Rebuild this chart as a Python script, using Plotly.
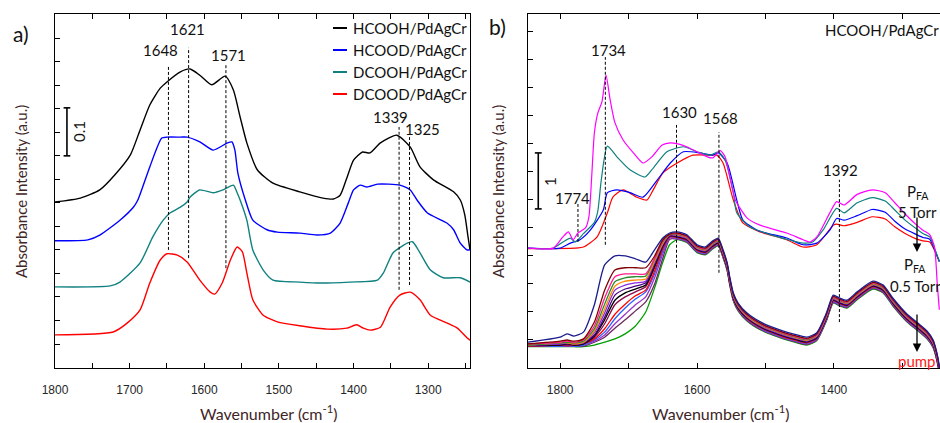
import plotly.graph_objects as go

W, H = 940, 423

# ---------------- panel a: isotopologues of formic acid on PdAgCr ----------------
a_names = ["HCOOH/PdAgCr", "HCOOD/PdAgCr", "DCOOH/PdAgCr", "DCOOD/PdAgCr"]
a_colors = ["#000000", "#0000ff", "#108080", "#ff0000"]

hcooh_wn = [1800, 1766, 1740, 1720, 1699, 1686, 1673, 1659, 1650, 1632, 1619, 1606, 1590, 1572,
            1561, 1552, 1543, 1529, 1508, 1472, 1441, 1427, 1418, 1409, 1400, 1388, 1378, 1364,
            1342, 1324, 1311, 1293, 1266, 1257, 1251, 1247, 1244]
hcooh_abs = [0.346, 0.354, 0.371, 0.402, 0.444, 0.496, 0.548, 0.583, 0.596, 0.617, 0.623, 0.610,
             0.590, 0.608, 0.579, 0.523, 0.469, 0.413, 0.385, 0.367, 0.354, 0.352, 0.360, 0.396,
             0.433, 0.450, 0.448, 0.469, 0.485, 0.460, 0.419, 0.392, 0.367, 0.350, 0.319, 0.277, 0.246]

hcood_wn = [1800, 1756, 1740, 1713, 1695, 1689, 1673, 1657, 1650, 1632, 1623, 1606, 1588, 1569,
            1563, 1559, 1555, 1545, 1535, 1516, 1502, 1472, 1449, 1431, 1418, 1407, 1400, 1391,
            1382, 1368, 1338, 1324, 1315, 1301, 1275, 1266, 1257, 1248, 1244]
hcood_abs = [0.265, 0.267, 0.277, 0.308, 0.335, 0.350, 0.419, 0.479, 0.481, 0.481, 0.481, 0.471,
             0.454, 0.469, 0.471, 0.454, 0.406, 0.350, 0.308, 0.288, 0.283, 0.281, 0.277, 0.281,
             0.302, 0.344, 0.371, 0.381, 0.377, 0.383, 0.381, 0.371, 0.350, 0.323, 0.302, 0.288,
             0.260, 0.246, 0.246]

dcooh_wn = [1800, 1726, 1713, 1686, 1669, 1655, 1646, 1632, 1623, 1619, 1606, 1588, 1575, 1561,
            1556, 1552, 1543, 1535, 1521, 1508, 1472, 1445, 1405, 1368, 1360, 1347, 1328, 1321,
            1311, 1297, 1280, 1257, 1244]
dcooh_abs = [0.169, 0.171, 0.179, 0.219, 0.273, 0.308, 0.323, 0.335, 0.346, 0.356, 0.371, 0.365,
             0.371, 0.381, 0.365, 0.350, 0.308, 0.246, 0.204, 0.183, 0.179, 0.177, 0.179, 0.183,
             0.198, 0.240, 0.260, 0.263, 0.240, 0.204, 0.188, 0.188, 0.179]

dcood_wn = [1800, 1722, 1703, 1686, 1673, 1659, 1650, 1636, 1623, 1606, 1592, 1586, 1576, 1565,
            1556, 1549, 1543, 1535, 1521, 1502, 1472, 1435, 1409, 1396, 1387, 1378, 1364, 1351,
            1338, 1324, 1311, 1297, 1275, 1261, 1248, 1244]
dcood_abs = [0.069, 0.075, 0.094, 0.121, 0.177, 0.225, 0.238, 0.235, 0.221, 0.183, 0.158, 0.154,
             0.177, 0.225, 0.252, 0.242, 0.198, 0.142, 0.110, 0.096, 0.088, 0.081, 0.083, 0.090,
             0.083, 0.079, 0.085, 0.127, 0.152, 0.158, 0.142, 0.110, 0.094, 0.083, 0.063, 0.058]

a_peaks = [1648, 1621, 1571, 1339, 1325]
a_peak_span = [(0.246, 0.631), (0.229, 0.667), (0.208, 0.635), (0.163, 0.502), (0.173, 0.481)]
a_peak_label_pos = [(1659, 0.662), (1623, 0.706), (1568, 0.652), (1351, 0.523), (1308, 0.498)]
a_scale = 0.1

# ---------------- panel b: HCOOH pressure series and pump-down ----------------
mag_wn = [1847, 1810, 1796, 1788, 1781, 1774, 1763, 1758, 1754, 1750, 1745, 1739, 1733, 1727,
          1720, 1708, 1693, 1679, 1666, 1651, 1639, 1628, 1615, 1600, 1585, 1577, 1566, 1559,
          1552, 1544, 1527, 1508, 1469, 1445, 1435, 1425, 1406, 1396, 1385, 1366, 1344, 1325,
          1311, 1296, 1279, 1270, 1260, 1253, 1249, 1246]
mag_abs = [2.14, 2.14, 2.34, 2.43, 2.29, 2.41, 2.5, 2.7, 3.4, 4.2, 4.55, 4.75, 5.23, 4.79,
           4.38, 4.07, 3.84, 3.66, 3.77, 3.98, 4.02, 4.0, 3.95, 3.86, 3.77, 3.75, 3.88, 3.77,
           3.41, 3.0, 2.68, 2.55, 2.41, 2.29, 2.25, 2.34, 2.77, 2.97, 2.91, 3.10, 3.18, 3.13,
           2.95, 2.75, 2.55, 2.46, 2.38, 2.16, 1.5, 1.04]

teal_wn = [1847, 1810, 1796, 1785, 1778, 1766, 1750, 1745, 1740, 1731, 1717, 1698, 1676, 1664,
           1644, 1620, 1600, 1581, 1569, 1559, 1547, 1542, 1523, 1493, 1445, 1431, 1416, 1396,
           1385, 1366, 1344, 1325, 1311, 1296, 1279, 1270, 1260, 1253, 1246]
teal_abs = [2.14, 2.14, 2.25, 2.32, 2.25, 2.40, 2.60, 2.80, 3.35, 3.96, 3.77, 3.54, 3.41, 3.57,
            3.86, 3.95, 3.86, 3.80, 3.86, 3.71, 3.13, 2.77, 2.52, 2.38, 2.23, 2.25, 2.46, 2.85,
            2.77, 2.95, 3.04, 2.98, 2.82, 2.64, 2.48, 2.40, 2.34, 2.14, 1.9]

blue_wn = [1847, 1800, 1785, 1771, 1756, 1737, 1731, 1717, 1698, 1679, 1658, 1639, 1620, 1596,
           1577, 1569, 1556, 1542, 1533, 1512, 1469, 1445, 1425, 1406, 1396, 1385, 1366, 1344,
           1325, 1311, 1296, 1279, 1270, 1260, 1253, 1246]
blue_abs = [2.14, 2.14, 2.23, 2.29, 2.46, 2.82, 3.13, 3.18, 3.13, 3.05, 3.36, 3.66, 3.86, 3.84,
            3.80, 3.84, 3.66, 3.0, 2.64, 2.46, 2.32, 2.20, 2.23, 2.46, 2.67, 2.64, 2.72, 2.83,
            2.78, 2.62, 2.48, 2.38, 2.33, 2.30, 2.12, 1.9]

red_wn = [1847, 1778, 1766, 1746, 1731, 1723, 1708, 1688, 1673, 1664, 1650, 1629, 1606, 1581,
          1571, 1562, 1547, 1533, 1508, 1469, 1445, 1425, 1401, 1396, 1385, 1366, 1344, 1325,
          1311, 1296, 1279, 1270, 1260, 1253, 1246]
red_abs = [2.13, 2.14, 2.16, 2.34, 2.77, 3.05, 3.18, 3.05, 3.0, 3.18, 3.48, 3.66, 3.80, 3.80,
           3.80, 3.66, 3.0, 2.59, 2.43, 2.29, 2.16, 2.20, 2.55, 2.57, 2.54, 2.60, 2.70, 2.66,
           2.52, 2.40, 2.30, 2.27, 2.25, 2.10, 1.9]

# pump-down series: each spectrum has its own 1700 cm-1 region, the rest of the
# band follows the first spectrum with a small per-spectrum decrease
pump_wn_left = [1847, 1800, 1790, 1780, 1766, 1750, 1735, 1720, 1705, 1690, 1675, 1662, 1650, 1640]
pump_wn_right = [1629, 1615, 1600, 1588, 1577, 1569, 1562, 1556, 1552, 1547, 1540, 1527, 1504,
                 1479, 1454, 1440, 1425, 1411, 1401, 1392, 1381, 1366, 1343, 1328, 1314, 1293,
                 1274, 1264, 1255, 1248, 1245]
pump_first_right = [2.43, 2.38, 2.20, 2.16, 2.27, 2.32, 2.11, 1.88, 1.61, 1.34, 1.16, 0.98, 0.80,
                    0.68, 0.59, 0.55, 0.63, 0.98, 1.30, 1.25, 1.21, 1.36, 1.55, 1.48, 1.25, 0.96,
                    0.77, 0.66, 0.50, 0.18, -0.07]

pump_01 = [0.46, 0.55, 0.61, 0.57, 0.64, 1.13, 1.84, 2.0, 2.0, 1.95, 1.89, 2.11, 2.32, 2.41]
pump_02 = [0.43, 0.48, 0.50, 0.48, 0.52, 0.82, 1.39, 1.75, 1.79, 1.79, 1.79, 2.0, 2.29, 2.39]
pump_03 = [0.43, 0.46, 0.48, 0.46, 0.50, 0.75, 1.25, 1.63, 1.68, 1.68, 1.68, 1.96, 2.27, 2.39]
pump_04 = [0.41, 0.45, 0.46, 0.45, 0.48, 0.70, 1.14, 1.54, 1.61, 1.63, 1.64, 1.95, 2.25, 2.38]
pump_05 = [0.41, 0.45, 0.45, 0.43, 0.46, 0.66, 1.05, 1.46, 1.55, 1.57, 1.59, 1.91, 2.23, 2.38]
pump_06 = [0.41, 0.43, 0.45, 0.43, 0.45, 0.63, 0.98, 1.39, 1.48, 1.52, 1.55, 1.89, 2.21, 2.38]
pump_07 = [0.41, 0.43, 0.43, 0.43, 0.45, 0.59, 0.91, 1.30, 1.41, 1.46, 1.52, 1.86, 2.20, 2.36]
pump_08 = [0.41, 0.41, 0.43, 0.41, 0.43, 0.57, 0.86, 1.21, 1.34, 1.41, 1.48, 1.82, 2.18, 2.36]
pump_09 = [0.39, 0.41, 0.41, 0.41, 0.43, 0.55, 0.79, 1.13, 1.27, 1.36, 1.45, 1.79, 2.16, 2.36]
pump_10 = [0.39, 0.41, 0.41, 0.41, 0.43, 0.52, 0.70, 0.96, 1.14, 1.29, 1.39, 1.73, 2.13, 2.34]
pump_11 = [0.39, 0.39, 0.41, 0.39, 0.41, 0.50, 0.64, 0.88, 1.07, 1.23, 1.36, 1.68, 2.09, 2.34]
pump_12 = [0.39, 0.39, 0.39, 0.39, 0.41, 0.48, 0.59, 0.79, 0.96, 1.13, 1.27, 1.61, 2.04, 2.32]
pump_13 = [0.39, 0.39, 0.39, 0.39, 0.39, 0.46, 0.55, 0.71, 0.86, 1.02, 1.18, 1.50, 1.96, 2.30]
pump_14 = [0.38, 0.38, 0.38, 0.38, 0.38, 0.41, 0.46, 0.52, 0.61, 0.75, 1.00, 1.43, 1.89, 2.20]
pump_drop = [0.0, 0.02, 0.035, 0.045, 0.055, 0.065, 0.075, 0.085, 0.09, 0.10, 0.11, 0.12, 0.13, 0.14]
pump_colors = ["#1c1c8f", "#800000", "#ff1e8c", "#2e8b2e", "#ff8c00", "#8a2be2", "#4b0082",
               "#000000", "#8b0a50", "#ff0000", "#2f5fff", "#9932cc", "#6b2a5a", "#00a000"]

b_peaks = [1774, 1734, 1630, 1568, 1392]
b_peak_span = [(2.25, 2.96), (2.20, 5.55), (1.79, 4.34), (1.70, 4.21), (0.82, 3.36)]
b_peak_label_pos = [(1782, 3.04), (1730, 5.68), (1625, 4.57), (1566, 4.46), (1391, 3.54)]
b_scale = 1.0

FONT = "Lato, 'Open Sans', sans-serif"
TICKFONT = dict(family="'Liberation Sans', Arial, sans-serif", size=12, color="#262626")
TITLE_COLOR = "#3f2626"
TEXT = dict(family=FONT, size=15, color="#111")


def px(x):
    return x / W


def py(y):
    return 1 - y / H


def note(x, y, text, font=TEXT, xanchor="center", **kw):
    """Paper-positioned text, anchored explicitly (no edge-dependent auto anchoring)."""
    return dict(xref="paper", yref="paper", x=px(x), y=py(y), text=text, showarrow=False,
                xanchor=xanchor, yanchor="middle", font=font, **kw)


fig = go.Figure()

a_series = [(hcooh_wn, hcooh_abs), (hcood_wn, hcood_abs), (dcooh_wn, dcooh_abs), (dcood_wn, dcood_abs)]
for (wn, ab), name, color in zip(a_series, a_names, a_colors):
    fig.add_trace(go.Scatter(x=wn, y=ab, mode="lines", name=name, showlegend=False,
                             line=dict(color=color, width=1.4, shape="spline", smoothing=0.6),
                             xaxis="x", yaxis="y"))

pump_left = [pump_01, pump_02, pump_03, pump_04, pump_05, pump_06, pump_07, pump_08, pump_09,
             pump_10, pump_11, pump_12, pump_13, pump_14]
for left, drop, color in reversed(list(zip(pump_left, pump_drop, pump_colors))):
    yy = left + [v - drop for v in pump_first_right]
    fig.add_trace(go.Scatter(x=pump_wn_left + pump_wn_right, y=yy, mode="lines", showlegend=False,
                             line=dict(color=color, width=1.3, shape="spline", smoothing=0.6),
                             xaxis="x2", yaxis="y2"))

b_series = [(red_wn, red_abs, "#ff0000"), (blue_wn, blue_abs, "#0000ff"),
            (teal_wn, teal_abs, "#108080"), (mag_wn, mag_abs, "#ff00ff")]
for wn, ab, color in b_series:
    fig.add_trace(go.Scatter(x=wn, y=ab, mode="lines", showlegend=False,
                             line=dict(color=color, width=1.2, shape="spline", smoothing=0.6),
                             xaxis="x2", yaxis="y2"))

shapes = []
annotations = []

# dashed peak markers
for wn, (y0, y1), (lx, ly) in zip(a_peaks, a_peak_span, a_peak_label_pos):
    shapes.append(dict(type="line", xref="x", yref="y", x0=wn, x1=wn, y0=y0, y1=y1,
                       line=dict(color="black", width=1, dash="3px,2px")))
    annotations.append(dict(xref="x", yref="y", x=lx, y=ly, text=str(wn), showarrow=False, font=TEXT))
for wn, (y0, y1), (lx, ly) in zip(b_peaks, b_peak_span, b_peak_label_pos):
    shapes.append(dict(type="line", xref="x2", yref="y2", x0=wn, x1=wn, y0=y0, y1=y1,
                       line=dict(color="black", width=1, dash="3px,2px")))
    annotations.append(dict(xref="x2", yref="y2", x=lx, y=ly, text=str(wn), showarrow=False, font=TEXT))

# scale bars
for xr, yr, xc, dx, y0, h in [("x", "y", 1784, 4.5, 0.442, a_scale), ("x2", "y2", 1832, 5.0, 2.84, b_scale)]:
    shapes.append(dict(type="line", xref=xr, yref=yr, x0=xc, x1=xc, y0=y0, y1=y0 + h,
                       line=dict(color="black", width=1.6)))
    for yy in (y0, y0 + h):
        shapes.append(dict(type="line", xref=xr, yref=yr, x0=xc - dx, x1=xc + dx, y0=yy, y1=yy,
                           line=dict(color="black", width=1.6)))
annotations.append(note(79, 132, "0.1", textangle=-90))
annotations.append(note(550, 182, "1", textangle=-90))

# legend of panel a
for i, (name, color) in enumerate(zip(a_names, a_colors)):
    yl = 28 + 22 * i
    shapes.append(dict(type="line", xref="paper", yref="paper", x0=px(333), x1=px(347),
                       y0=py(yl), y1=py(yl), line=dict(color=color, width=2)))
    annotations.append(note(351, yl, name, xanchor="left"))

title_font = dict(family=FONT, size=15, color=TITLE_COLOR)
annotations += [
    note(21, 33, "a)", font=dict(family=FONT, size=21, color="#111")),
    note(497, 27, "b)", font=dict(family=FONT, size=21, color="#111")),
    note(882, 30, "HCOOH/PdAgCr"),
    note(268, 412, "Wavenumber (cm<sup>-1</sup>)", font=dict(family=FONT, size=16, color=TITLE_COLOR)),
    note(720, 412, "Wavenumber (cm<sup>-1</sup>)", font=dict(family=FONT, size=16, color=TITLE_COLOR)),
    note(21, 192, "Absorbance Intensity (a.u.)", font=title_font, textangle=-90),
    note(498, 192, "Absorbance Intensity (a.u.)", font=title_font, textangle=-90),
    note(918, 192, "P<sub>FA</sub>"),
    note(917, 212, "5 Torr"),
    note(915, 265, "P<sub>FA</sub>"),
    note(888, 286, "0.5 Torr", xanchor="left"),
    note(896, 361, "pump", font=dict(family=FONT, size=15, color="#ff2020"), xanchor="left"),
    # pressure arrows
    dict(xref="paper", yref="paper", x=px(917), y=py(252), ax=0, ay=-36, text="", showarrow=True,
         arrowhead=2, arrowsize=1.3, arrowwidth=1.3, arrowcolor="black"),
    dict(xref="paper", yref="paper", x=px(917), y=py(352), ax=0, ay=-39, text="", showarrow=True,
         arrowhead=2, arrowsize=1.3, arrowwidth=1.3, arrowcolor="black"),
]

axis_common = dict(showline=True, linecolor="black", linewidth=1, ticks="inside", ticklen=5,
                   tickcolor="black", tickwidth=1, showgrid=False, zeroline=False, tickfont=TICKFONT)

a_xt = list(range(1800, 1240, -50))
b_xt = list(range(1800, 1240, -100))

fig.update_layout(
    width=W, height=H, margin=dict(l=0, r=0, t=0, b=0, autoexpand=False),
    paper_bgcolor="white", plot_bgcolor="rgba(0,0,0,0)", showlegend=False,
    xaxis=dict(domain=[px(55), px(470)], range=[1800, 1244], anchor="y", mirror="ticks",
               tickvals=a_xt, ticktext=[str(v) if v % 100 == 0 else "" for v in a_xt],
               ticklabelstandoff=11, **axis_common),
    yaxis=dict(domain=[py(368), py(14)], range=[0, 0.7375], anchor="x", mirror=True,
               tick0=0.148, dtick=0.049, showticklabels=False, **axis_common),
    xaxis2=dict(domain=[px(528), 1.0], range=[1847, 1245], anchor="y2", mirror="ticks",
                tickvals=b_xt, ticktext=[str(v) if v % 200 == 0 else "" for v in b_xt],
                ticklabelstandoff=11, **axis_common),
    yaxis2=dict(domain=[py(368), py(14)], range=[0, 6.32], anchor="x2", mirror=False,
                tick0=0, dtick=0.5, showticklabels=False, **axis_common),
    shapes=shapes, annotations=annotations,
)

fig.write_html("out.html", config={"displayModeBar": False},
               post_script="document.body.style.margin='0';document.body.style.overflow='hidden';")
